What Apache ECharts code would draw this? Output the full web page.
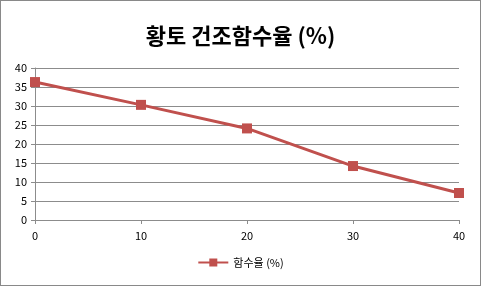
<!DOCTYPE html>
<html><head><meta charset="utf-8">
<script src="https://cdn.jsdelivr.net/npm/echarts@6/dist/echarts.min.js"></script>
<style>html,body{margin:0;padding:0;background:#fff}#c{width:479px;height:284px;border:1px solid #898989}</style>
</head><body><div id="c"></div>
<script>
var xValues = [0, 10, 20, 30, 40];
var moisture = [36.3, 30.3, 24.1, 14.2, 7.1];
var seriesName = '함수율 (%)';
var titleText = '황토 건조함수율 (%)';
var chart = echarts.init(document.getElementById('c'));
var font = '"Noto Sans CJK KR", "DejaVu Sans", sans-serif';
chart.setOption({
  animation: false,
  title: {text: titleText, left: 'center', top: 19, textStyle: {fontFamily: font, fontSize: 22, fontWeight: 'bold', color: '#000'}},
  legend: {bottom: 12, left: 'center', itemWidth: 30, itemHeight: 10, textStyle: {fontFamily: font, fontSize: 11, color: '#000'}, data: [seriesName]},
  grid: {left: 34, right: 21, top: 67, bottom: 65},
  xAxis: {type: 'value', min: 0, max: 40, interval: 10,
    axisLine: {lineStyle: {color: '#8c8c8c'}}, axisTick: {show: true, length: 4, lineStyle: {color: '#8c8c8c'}},
    splitLine: {show: false}, axisLabel: {color: '#000', fontFamily: font, fontSize: 11, margin: 10}},
  yAxis: {type: 'value', min: 0, max: 40, interval: 5,
    axisLine: {show: true, lineStyle: {color: '#8c8c8c'}}, axisTick: {show: true, length: 4, lineStyle: {color: '#8c8c8c'}},
    splitLine: {lineStyle: {color: '#8c8c8c'}}, axisLabel: {color: '#000', fontFamily: font, fontSize: 11, margin: 8}},
  series: [{name: seriesName, type: 'line', data: xValues.map(function(x, i){return [x, moisture[i]];}),
    lineStyle: {color: '#C0504D', width: 3}, itemStyle: {color: '#C0504D'}, symbol: 'rect', symbolSize: 10}]
});
</script></body></html>
